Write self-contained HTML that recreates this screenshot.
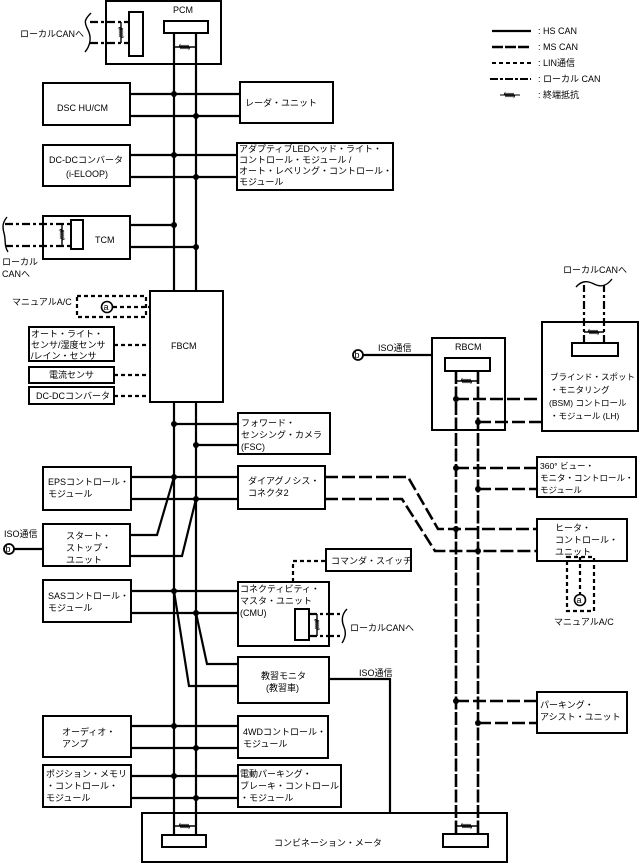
<!DOCTYPE html>
<html><head><meta charset="utf-8"><style>
html,body{margin:0;padding:0;background:#fff;}
svg{display:block;}
text{font-family:"Liberation Sans","Noto Sans CJK JP",sans-serif;font-size:9px;fill:#000;}
</style></head><body>
<svg width="641" height="864" viewBox="0 0 641 864" xmlns="http://www.w3.org/2000/svg">
<defs>
<style>
.b{fill:#fff;stroke:#000;stroke-width:2}
.hs{stroke:#000;stroke-width:2.2;fill:none}
.ms{stroke:#000;stroke-width:2.6;fill:none;stroke-dasharray:13 2.5}
.ms2{stroke:#000;stroke-width:2.6;fill:none;stroke-dasharray:13 4}
.lin{stroke:#000;stroke-width:2.2;fill:none;stroke-dasharray:4 3}
.lc{stroke:#000;stroke-width:2.2;fill:none;stroke-dasharray:8 3 3 3}
.thin{stroke:#000;stroke-width:1.4;fill:none}
.res{stroke:#000;stroke-width:1;fill:none}
</style>
</defs>

<rect class="b" x="142" y="813" width="365" height="49"/>
<text x="274" y="846">コンビネーション・メータ</text>

<rect class="b" x="106" y="1" width="115" height="63"/>
<text x="173" y="13">PCM</text>

<line class="hs" x1="174" y1="33" x2="174" y2="836"/>
<line class="hs" x1="196" y1="33" x2="196" y2="836"/>
<rect class="b" x="164" y="21" width="44" height="12"/>
<rect class="b" x="162" y="835" width="44" height="12"/>
<line class="thin" x1="174" y1="47" x2="196" y2="47"/>
<path class="res" d="M179,47 l1,-2 l1,4 l1,-4 l1,4 l1,-4 l1,4 l1,-4 l1,4 l1,-4 l1,4 l1,-2" stroke-width="1.5"/>
<line class="thin" x1="174" y1="826" x2="196" y2="826"/>
<path class="res" d="M179,826 l1,-2 l1,4 l1,-4 l1,4 l1,-4 l1,4 l1,-4 l1,4 l1,-4 l1,4 l1,-2" stroke-width="1.5"/>

<rect class="b" x="129" y="12" width="14" height="44"/>
<line class="lc" x1="90" y1="22" x2="129" y2="22"/>
<line class="lc" x1="90" y1="43" x2="129" y2="43"/>
<line class="thin" x1="121" y1="22" x2="121" y2="43" stroke-width="1"/>
<path class="res" d="M121,27 l-2,1 l4,1 l-4,1 l4,1 l-4,1 l4,1 l-4,1 l4,1 l-4,1 l4,1 l-2,1" stroke-width="1.3"/>
<path class="thin" d="M91,13 C84,20 84,22 88,30 C92,38 90,46 85,52" stroke-width="1"/>
<text x="20" y="37">ローカルCANへ</text>

<rect class="b" x="43" y="83" width="87" height="42"/>
<text x="57" y="111">DSC HU/CM</text>
<line class="hs" x1="130" y1="94" x2="240" y2="94"/>
<line class="hs" x1="130" y1="116" x2="240" y2="116"/>
<rect class="b" x="240" y="82" width="93" height="41"/>
<text x="245" y="106">レーダ・ユニット</text>

<rect class="b" x="43" y="145" width="87" height="41"/>
<text x="49" y="163">DC-DCコンバータ</text>
<text x="66" y="177">(i-ELOOP)</text>
<line class="hs" x1="130" y1="155" x2="238" y2="155"/>
<line class="hs" x1="130" y1="177" x2="238" y2="177"/>
<rect class="b" x="237" y="143" width="156" height="47"/>
<text x="239" y="152">アダプティブLEDヘッド・ライト・</text>
<text x="239" y="163">コントロール・モジュール /</text>
<text x="239" y="174">オート・レベリング・コントロール・</text>
<text x="239" y="185">モジュール</text>

<rect class="b" x="43" y="216" width="87" height="43"/>
<text x="95" y="243">TCM</text>
<line class="hs" x1="130" y1="225" x2="174" y2="225"/>
<line class="hs" x1="130" y1="247" x2="196" y2="247"/>
<rect class="b" x="71" y="220" width="12" height="29"/>
<line class="lc" x1="5" y1="224" x2="71" y2="224"/>
<line class="lc" x1="5" y1="246" x2="71" y2="246"/>
<line class="thin" x1="62" y1="224" x2="62" y2="246" stroke-width="1"/>
<path class="res" d="M62,229 l-2,1 l4,1 l-4,1 l4,1 l-4,1 l4,1 l-4,1 l4,1 l-4,1 l4,1 l-2,1" stroke-width="1.3"/>
<path class="thin" d="M7,217 C3,222 2,226 4,233 C6,240 4,246 8,252" stroke-width="1"/>
<text x="2" y="265">ローカル</text>
<text x="2" y="277">CANへ</text>

<rect class="b" x="150" y="291" width="73" height="111"/>
<text x="171" y="349">FBCM</text>
<rect x="77" y="296" width="69" height="21" fill="none" class="lin" stroke-width="2"/>
<circle cx="107" cy="307" r="5.5" fill="#fff" stroke="#000" stroke-width="1.6"/>
<text x="103.5" y="310" style="font-size:9px">a</text>
<line class="lin" x1="113" y1="307" x2="150" y2="307"/>
<text x="12" y="305">マニュアルA/C</text>
<rect class="b" x="29" y="327" width="85" height="34"/>
<text x="31" y="337">オート・ライト・</text>
<text x="31" y="348">センサ/湿度センサ</text>
<text x="31" y="359">/レイン・センサ</text>
<line class="lin" x1="114" y1="345" x2="150" y2="345"/>
<rect class="b" x="29" y="367" width="85" height="16"/>
<text x="49" y="378">電流センサ</text>
<line class="lin" x1="114" y1="375" x2="150" y2="375"/>
<rect class="b" x="29" y="387" width="85" height="17"/>
<text x="36" y="399">DC-DCコンバータ</text>
<line class="lin" x1="114" y1="396" x2="150" y2="396"/>

<line class="hs" x1="174" y1="424" x2="238" y2="424"/>
<line class="hs" x1="196" y1="445" x2="238" y2="445"/>
<rect class="b" x="238" y="413" width="92" height="41"/>
<text x="241" y="426">フォワード・</text>
<text x="241" y="438">センシング・カメラ</text>
<text x="241" y="450">(FSC)</text>

<rect class="b" x="43" y="467" width="88" height="43"/>
<text x="48" y="485">EPSコントロール・</text>
<text x="48" y="497">モジュール</text>
<line class="hs" x1="131" y1="477" x2="238" y2="477"/>
<line class="hs" x1="131" y1="499" x2="238" y2="499"/>
<rect class="b" x="238" y="466" width="87" height="43"/>
<text x="248" y="484">ダイアグノシス・</text>
<text x="248" y="496">コネクタ2</text>

<rect class="b" x="43" y="524" width="87" height="42"/>
<text x="66" y="539">スタート・</text>
<text x="66" y="551">ストップ・</text>
<text x="66" y="563">ユニット</text>
<polyline class="hs" points="130,535 157,535 174,477"/>
<polyline class="hs" points="130,556 182,556 196,499"/>
<line class="hs" x1="14" y1="549" x2="43" y2="549"/>
<circle cx="9" cy="549" r="5" fill="#fff" stroke="#000" stroke-width="1.8"/>
<text x="5.5" y="552" style="font-size:9px">b</text>
<text x="4" y="537">ISO通信</text>

<rect class="b" x="43" y="580" width="88" height="42"/>
<text x="48" y="599">SASコントロール・</text>
<text x="48" y="611">モジュール</text>
<line class="hs" x1="131" y1="591" x2="238" y2="591"/>
<line class="hs" x1="131" y1="613" x2="238" y2="613"/>
<polyline class="hs" points="174,591 189,686 238,686"/>
<polyline class="hs" points="196,613 207,664 238,664"/>
<rect class="b" x="238" y="582" width="91" height="64"/>
<text x="240" y="592">コネクティビティ・</text>
<text x="240" y="604">マスタ・ユニット</text>
<text x="240" y="616">(CMU)</text>
<rect class="b" x="295" y="609" width="14" height="31"/>
<line class="lc" x1="309" y1="614" x2="341" y2="614"/>
<line class="lc" x1="309" y1="636" x2="341" y2="636"/>
<line class="thin" x1="317" y1="614" x2="317" y2="636" stroke-width="1"/>
<path class="res" d="M317,619 l-2,1 l4,1 l-4,1 l4,1 l-4,1 l4,1 l-4,1 l4,1 l-4,1 l4,1 l-2,1" stroke-width="1.3"/>
<path class="thin" d="M347,609 C342,614 341,620 344,627 C347,634 344,640 342,643" stroke-width="1"/>
<text x="350" y="631">ローカルCANへ</text>
<polyline class="lin" points="293,582 293,561 326,561"/>
<rect class="b" x="326" y="549" width="85" height="22"/>
<text x="331" y="564">コマンダ・スイッチ</text>

<rect class="b" x="238" y="657" width="91" height="46"/>
<text x="261" y="679">教習モニタ</text>
<text x="266" y="691">(教習車)</text>
<polyline class="hs" points="329,679 390,679 390,813"/>
<text x="359" y="676">ISO通信</text>

<rect class="b" x="43" y="716" width="88" height="41"/>
<text x="62" y="735">オーディオ・</text>
<text x="62" y="747">アンプ</text>
<line class="hs" x1="131" y1="726" x2="238" y2="726"/>
<line class="hs" x1="131" y1="748" x2="238" y2="748"/>
<rect class="b" x="238" y="716" width="90" height="42"/>
<text x="243" y="735">4WDコントロール・</text>
<text x="243" y="747">モジュール</text>

<rect class="b" x="43" y="765" width="88" height="42"/>
<text x="46" y="777">ポジション・メモリ</text>
<text x="46" y="789">・コントロール・</text>
<text x="46" y="801">モジュール</text>
<line class="hs" x1="131" y1="776" x2="238" y2="776"/>
<line class="hs" x1="131" y1="798" x2="238" y2="798"/>
<rect class="b" x="238" y="765" width="103" height="42"/>
<text x="240" y="777">電動パーキング・</text>
<text x="240" y="789">ブレーキ・コントロール</text>
<text x="240" y="801">・モジュール</text>

<g fill="#000">
<circle cx="174" cy="94" r="3"/><circle cx="196" cy="116" r="3"/>
<circle cx="174" cy="155" r="3"/><circle cx="196" cy="177" r="3"/>
<circle cx="174" cy="225" r="3"/><circle cx="196" cy="247" r="3"/>
<circle cx="174" cy="424" r="3"/><circle cx="196" cy="445" r="3"/>
<circle cx="174" cy="477" r="3"/><circle cx="196" cy="499" r="3"/>
<circle cx="174" cy="591" r="3"/><circle cx="196" cy="613" r="3"/>
<circle cx="174" cy="726" r="3"/><circle cx="196" cy="748" r="3"/>
<circle cx="174" cy="776" r="3"/><circle cx="196" cy="798" r="3"/>
</g>

<rect class="b" x="432" y="338" width="73" height="92"/>
<text x="455" y="350">RBCM</text>
<line class="ms" x1="456" y1="371" x2="456" y2="835"/>
<line class="ms" x1="478" y1="371" x2="478" y2="835"/>
<rect class="b" x="445" y="358" width="45" height="13"/>
<rect class="b" x="443" y="834" width="45" height="13"/>
<line class="thin" x1="456" y1="381" x2="478" y2="381"/>
<path class="res" d="M461,381 l1,-2 l1,4 l1,-4 l1,4 l1,-4 l1,4 l1,-4 l1,4 l1,-4 l1,4 l1,-2" stroke-width="1.5"/>
<line class="thin" x1="456" y1="826" x2="478" y2="826"/>
<path class="res" d="M461,826 l1,-2 l1,4 l1,-4 l1,4 l1,-4 l1,4 l1,-4 l1,4 l1,-4 l1,4 l1,-2" stroke-width="1.5"/>
<line class="hs" x1="363" y1="355" x2="432" y2="355"/>
<circle cx="358" cy="355" r="5" fill="#fff" stroke="#000" stroke-width="1.8"/>
<text x="354.5" y="358" style="font-size:9px">b</text>
<text x="378" y="351">ISO通信</text>

<rect class="b" x="542" y="322" width="96" height="109"/>
<rect class="b" x="572" y="343" width="46" height="13"/>
<line class="lc" x1="584" y1="343" x2="584" y2="285"/>
<line class="lc" x1="604" y1="343" x2="604" y2="285"/>
<line class="thin" x1="584" y1="332" x2="604" y2="332" stroke-width="1"/>
<path class="res" d="M588,332 l1,-2 l1,4 l1,-4 l1,4 l1,-4 l1,4 l1,-4 l1,4 l1,-4 l1,4 l1,-2" stroke-width="1.3"/>
<path class="thin" d="M576,287 C582,280 588,281 594,284 C600,287 606,287 612,279" stroke-width="1"/>
<text x="563" y="273">ローカルCANへ</text>
<text x="550" y="380" style="font-size:8.5px">ブラインド・スポット</text>
<text x="550" y="393" style="font-size:8.5px">・モニタリング</text>
<text x="549" y="406" style="font-size:8.5px">(BSM) コントロール</text>
<text x="550" y="419" style="font-size:8.5px">・モジュール (LH)</text>
<line class="ms2" x1="456" y1="399" x2="542" y2="399"/>
<line class="ms2" x1="478" y1="422" x2="542" y2="422"/>

<rect class="b" x="537" y="457" width="99" height="40"/>
<text x="540" y="469" style="font-size:8.5px">360°  ビュー・</text>
<text x="540" y="481" style="font-size:8.5px">モニタ・コントロール・</text>
<text x="540" y="493" style="font-size:8.5px">モジュール</text>
<line class="ms2" x1="456" y1="468" x2="537" y2="468"/>
<line class="ms2" x1="478" y1="489" x2="537" y2="489"/>

<rect class="b" x="537" y="519" width="90" height="42"/>
<text x="555" y="531">ヒータ・</text>
<text x="555" y="543">コントロール・</text>
<text x="555" y="555">ユニット</text>
<polyline class="ms2" points="325,477 408,477 438,529 537,529"/>
<polyline class="ms2" points="325,499 402,499 435,551 537,551"/>
<rect x="567" y="557" width="27" height="54" class="lin" stroke-width="2"/>
<line class="lin" x1="580" y1="557" x2="580" y2="594"/>
<circle cx="580" cy="600" r="5.5" fill="#fff" stroke="#000" stroke-width="1.6"/>
<text x="576.5" y="603" style="font-size:9px">a</text>
<text x="554" y="625">マニュアルA/C</text>

<rect class="b" x="537" y="692" width="90" height="41"/>
<text x="540" y="708">パーキング・</text>
<text x="540" y="720">アシスト・ユニット</text>
<line class="ms2" x1="456" y1="701" x2="537" y2="701"/>
<line class="ms2" x1="478" y1="723" x2="537" y2="723"/>

<g fill="#000">
<circle cx="456" cy="399" r="3"/><circle cx="478" cy="422" r="3"/>
<circle cx="456" cy="468" r="3"/><circle cx="478" cy="489" r="3"/>
<circle cx="456" cy="529" r="3"/><circle cx="478" cy="551" r="3"/>
<circle cx="456" cy="701" r="3"/><circle cx="478" cy="723" r="3"/>
</g>

<line class="hs" x1="492" y1="31" x2="531" y2="31"/>
<line x1="492" y1="47" x2="531" y2="47" stroke="#000" stroke-width="2.4" stroke-dasharray="11 2"/>
<line x1="492" y1="63" x2="531" y2="63" stroke="#000" stroke-width="2" stroke-dasharray="4 3"/>
<line x1="490" y1="79" x2="531" y2="79" stroke="#000" stroke-width="2" stroke-dasharray="8 2 3 2"/>
<line x1="500" y1="95" x2="520" y2="95" stroke="#000" stroke-width="1"/>
<path class="res" d="M504,95 l1,-2 l1,4 l1,-4 l1,4 l1,-4 l1,4 l1,-4 l1,4 l1,-4 l1,4 l1,-2" stroke-width="1.3"/>
<text x="538" y="34">: HS CAN</text>
<text x="538" y="50">: MS CAN</text>
<text x="538" y="66">: LIN通信</text>
<text x="538" y="82">: ローカル CAN</text>
<text x="538" y="98">: 終端抵抗</text>
</svg>
</body></html>
